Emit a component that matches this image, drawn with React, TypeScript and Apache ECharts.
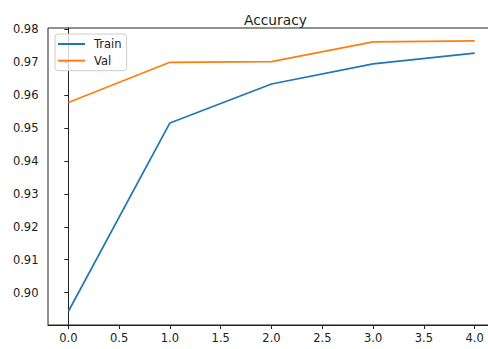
import React, { useEffect, useRef } from "react";
import * as echarts from "echarts";

const epochs = [0, 1, 2, 3, 4];
const trainAcc = [0.8943, 0.9515, 0.9633, 0.9694, 0.9727];
const valAcc = [0.9577, 0.9699, 0.9701, 0.9761, 0.9764];
const xTicks = [0, 0.5, 1, 1.5, 2, 2.5, 3, 3.5, 4];
const yTicks = [0.9, 0.91, 0.92, 0.93, 0.94, 0.95, 0.96, 0.97, 0.98];

const FONT = "DejaVu Sans";

export default function App() {
  const ref = useRef<HTMLDivElement>(null);
  useEffect(() => {
    if (!ref.current) return;
    const chart = echarts.init(ref.current, undefined, { renderer: "svg", width: 488, height: 349 });
    chart.setOption({
      animation: false,
      backgroundColor: "#fff",
      title: {
        text: "Accuracy",
        left: 239,
        top: 8,
        textStyle: { fontFamily: FONT, fontSize: 13.8, fontWeight: "normal", color: "#222" },
      },
      legend: {
        left: 55,
        top: 34,
        orient: "vertical",
        icon: "rect",
        itemWidth: 27,
        itemHeight: 2,
        itemGap: 2.7,
        padding: [3, 5, 3, 3],
        borderColor: "#ccc",
        borderWidth: 1,
        borderRadius: 3,
        backgroundColor: "rgba(255,255,255,0.8)",
        textStyle: { fontFamily: FONT, fontSize: 11.5, color: "#222", lineHeight: 14, padding: [0, 0, 0, 4] },
        data: ["Train", "Val"],
      },
      grid: {
        left: 48,
        top: 28,
        right: -7,
        bottom: 24,
        outerBoundsMode: "none",
        outerBounds: { left: -50, right: -50, top: -50, bottom: -50 },
        containLabel: false,
        show: true,
        borderColor: "#222",
        borderWidth: 1,
        backgroundColor: "transparent",
      },
      xAxis: {
        type: "value",
        min: -0.2,
        max: 4.2,
        splitLine: { show: false },
        axisLine: { show: true, lineStyle: { color: "#222", width: 1 } },
        axisTick: { show: true, inside: false, length: 4, customValues: xTicks, lineStyle: { color: "#222" } },
        axisLabel: {
          customValues: xTicks,
          margin: 7,
          fontFamily: FONT,
          fontSize: 11.5,
          color: "#222",
          formatter: (v: number) => v.toFixed(1),
        },
      },
      yAxis: {
        type: "value",
        min: 0.8902,
        max: 0.9803,
        splitLine: { show: false },
        axisLine: { show: true, lineStyle: { color: "#222", width: 1 } },
        axisTick: { show: true, inside: false, length: 4, customValues: yTicks, lineStyle: { color: "#222" } },
        axisLabel: {
          customValues: yTicks,
          margin: 9.5,
          fontFamily: FONT,
          fontSize: 11.5,
          color: "#222",
          formatter: (v: number) => v.toFixed(2),
        },
      },
      series: [
        {
          name: "Train",
          type: "line",
          data: epochs.map((e, i) => [e, trainAcc[i]]),
          showSymbol: false,
          color: "#1f77b4",
          lineStyle: { width: 1.7, color: "#1f77b4" },
        },
        {
          name: "Val",
          type: "line",
          data: epochs.map((e, i) => [e, valAcc[i]]),
          showSymbol: false,
          color: "#ff7f0e",
          lineStyle: { width: 1.7, color: "#ff7f0e" },
        },
      ],
    });
    return () => chart.dispose();
  }, []);
  return (
    <div
      ref={ref}
      style={{ position: "fixed", left: 0, top: 0, width: 488, height: 349 }}
    />
  );
}
